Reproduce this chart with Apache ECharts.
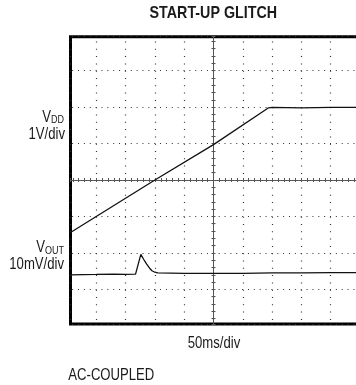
<!DOCTYPE html>
<html>
<head>
<meta charset="utf-8">
<script src="https://cdn.jsdelivr.net/npm/echarts@6/dist/echarts.min.js"></script>
<style>
html,body{margin:0;padding:0;background:#fff;}
#chart{width:356px;height:385px;}
</style>
</head>
<body>
<div id="chart"></div>
<script>
// Time in ms relative to screen centre (50 ms/div); vertical in screen divisions from centre
var vddTime = [-244, -100, 0, 94, 100, 150, 200, 265];
var vddDiv  = [-1.44, 0.00, 0.97, 1.98, 1.99, 1.98, 1.99, 1.99];

var voutTime = [-244, -200, -170, -150, -133, -130, -124, -119, -114, -109, -105, -100, -95, -50, 0, 50, 100, 150, 200, 265];
var voutDiv  = [-2.60, -2.59, -2.58, -2.59, -2.58, -2.57, -2.04, -2.18, -2.31, -2.42, -2.49, -2.53, -2.55, -2.56, -2.56, -2.56, -2.55, -2.55, -2.54, -2.54];

var titleText = 'START-UP GLITCH';
var xUnitLabel = '50ms/div';
var footnote = 'AC-COUPLED';
var vddLabel = ['V', 'DD', '1V/div'];
var voutLabel = ['V', 'OUT', '10mV/div'];

var FONT = '"Liberation Sans", Arial, sans-serif';
var NARROW = 0.82;

function pairs(xs, ys) { return xs.map(function (x, i) { return [x, ys[i]]; }); }

var chart = echarts.init(document.getElementById('chart'), null, {renderer: 'canvas'});

var tickColor = '#555';
var dotColor = '#333';

function txt(x, y, text, size, align, weight, sx) {
  return {
    type: 'text', x: x, y: y, scaleX: sx || NARROW, scaleY: 1,
    style: {text: text, fill: '#1a1a1a', fontFamily: FONT, fontSize: size,
            fontWeight: weight || 'normal', align: align, verticalAlign: 'middle'}
  };
}

var option = {
  animation: false,
  backgroundColor: '#fff',
  grid: {
    left: 70.5, top: 36.7, width: 298.3, height: 287.3,
    containLabel: false, outerBoundsMode: 'none',
    show: true, borderColor: '#000', borderWidth: 3, backgroundColor: 'transparent'
  },
  xAxis: [{
    type: 'value', min: -244, max: 265, minInterval: 50, maxInterval: 50,
    axisLine: {show: true, onZero: true, onZeroAxisIndex: 0, lineStyle: {color: tickColor, width: 1}},
    axisTick: {show: true, length: 2, inside: false, lineStyle: {color: tickColor}},
    minorTick: {show: true, splitNumber: 5, length: 2, lineStyle: {color: tickColor}},
    axisLabel: {show: false},
    splitLine: {show: true, lineStyle: {color: dotColor, width: 1.2, type: [1, 6.3], dashOffset: 2.5}}
  }, {
    type: 'value', position: 'top', min: -244, max: 265, minInterval: 50, maxInterval: 50,
    axisLine: {show: true, onZero: true, onZeroAxisIndex: 0, lineStyle: {color: tickColor, width: 1}},
    axisTick: {show: true, length: 2, inside: false, lineStyle: {color: tickColor}},
    minorTick: {show: true, splitNumber: 5, length: 2, lineStyle: {color: tickColor}},
    axisLabel: {show: false},
    splitLine: {show: false}
  }],
  yAxis: [{
    type: 'value', min: -3.95, max: 3.93, minInterval: 1, maxInterval: 1,
    axisLine: {show: true, onZero: true, onZeroAxisIndex: 0, lineStyle: {color: tickColor, width: 1}},
    axisTick: {show: true, length: 2, inside: false, lineStyle: {color: tickColor}},
    minorTick: {show: true, splitNumber: 5, length: 2, lineStyle: {color: tickColor}},
    axisLabel: {show: false},
    splitLine: {show: true, lineStyle: {color: dotColor, width: 1.2, type: [1, 4.86], dashOffset: 4.2}}
  }, {
    type: 'value', position: 'right', min: -3.95, max: 3.93, minInterval: 1, maxInterval: 1,
    axisLine: {show: true, onZero: true, onZeroAxisIndex: 0, lineStyle: {color: tickColor, width: 1}},
    axisTick: {show: true, length: 2, inside: false, lineStyle: {color: tickColor}},
    minorTick: {show: true, splitNumber: 5, length: 2, lineStyle: {color: tickColor}},
    axisLabel: {show: false},
    splitLine: {show: false}
  }],
  series: [{
    name: 'VDD', type: 'line', xAxisIndex: 0, yAxisIndex: 0,
    data: pairs(vddTime, vddDiv), showSymbol: false, symbol: 'none',
    lineStyle: {color: '#111', width: 1.3}, z: 5
  }, {
    name: 'VOUT', type: 'line', xAxisIndex: 0, yAxisIndex: 0,
    data: pairs(voutTime, voutDiv), showSymbol: false, symbol: 'none',
    lineStyle: {color: '#111', width: 1.3}, z: 5
  }],
  graphic: [
    txt(213.3, 13.7, titleText, 17, 'center', 'bold', 0.84),
    txt(214, 343.5, xUnitLabel, 16, 'center'),
    txt(68.3, 375.5, footnote, 16, 'left'),
    txt(51, 117.5, vddLabel[0], 16, 'right'),
    txt(51, 120, vddLabel[1], 11, 'left'),
    txt(65, 134.2, vddLabel[2], 16, 'right'),
    txt(45, 248, voutLabel[0], 16, 'right'),
    txt(45, 251, voutLabel[1], 11, 'left'),
    txt(64, 264.7, voutLabel[2], 16, 'right')
  ]
};
chart.setOption(option);
</script>
</body>
</html>
